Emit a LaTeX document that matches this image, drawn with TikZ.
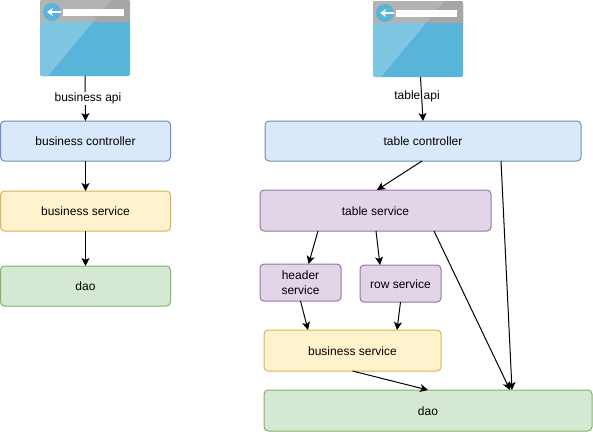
\documentclass[tikz,border=0pt]{standalone}
\usepackage{fontspec}
\setmainfont{Liberation Sans}
\usepackage{tikz}
\usetikzlibrary{arrows.meta}

\definecolor{blueFill}{HTML}{DAE8FC}
\definecolor{blueLine}{HTML}{6C8EBF}
\definecolor{yellowFill}{HTML}{FFF2CC}
\definecolor{yellowLine}{HTML}{D6B656}
\definecolor{purpleFill}{HTML}{E1D5E7}
\definecolor{purpleLine}{HTML}{9673A6}
\definecolor{greenFill}{HTML}{D5E8D4}
\definecolor{greenLine}{HTML}{82B366}
\definecolor{iconBlue}{HTML}{59B4D9}
\definecolor{iconLight}{HTML}{7FC6E3}
\definecolor{iconGray}{HTML}{B3B3B3}
\definecolor{iconDark}{HTML}{A6A6A6}

\tikzset{
  box/.style={draw, rounded corners=4pt, line width=1pt, outer sep=0pt,
    align=center, font=\fontsize{12}{15}\selectfont},
  oneline/.style={text height=9.4pt, text depth=0pt},
  ctrlbox/.style={box, oneline, fill=blueFill, draw=blueLine},
  svcbox/.style={box, oneline, fill=yellowFill, draw=yellowLine},
  subbox/.style={box, fill=purpleFill, draw=purpleLine},
  daobox/.style={box, oneline, fill=greenFill, draw=greenLine},
  apilabel/.style={font=\fontsize{12}{15}\selectfont, inner sep=1pt},
  flow/.style={-{Stealth[length=8pt,width=8pt,inset=2pt]}, line width=1pt}
}

% icon of a browser window, (#2,#3) is its top left corner
\newcommand{\browsericon}[3]{
  \node [fill=iconBlue, rounded corners=2pt, minimum width=90pt, minimum height=76pt,
    inner sep=0pt, outer sep=0pt, anchor=north west] (#1) at (#2, #3) {};
  \begin{scope}[shift={(#2, #3)}]
    \clip [rounded corners=2pt] (0, 0) rectangle (90, 76);
    \fill [iconLight] (0, 22) -- (53, 22) -- (8, 76) -- (0, 76) -- cycle;
    \fill [iconGray] (0, 0) rectangle (90, 22);
    \fill [iconDark] (72, 0) -- (90, 0) -- (90, 22) -- (53, 22) -- cycle;
    \fill [white] (23, 9) rectangle (84, 15.5);
    \fill [iconBlue] (12, 12) circle (9);
    \draw [white, line width=1.5pt, -{Stealth[length=6pt,width=8pt]}] (21, 12) -- (7, 12);
  \end{scope}
}

\begin{document}
\begin{tikzpicture}[x=1pt, y=-1pt]
    \useasboundingbox (0, 0) rectangle (593, 431);

    \browsericon{businessweb}{40}{0}
    \browsericon{tableweb}{373}{1}

    % left stack
    \node [ctrlbox, minimum width=170pt, minimum height=40pt] (businessctrl) at (85.5, 141) {business controller};
    \node [svcbox, minimum width=170pt, minimum height=40pt] (businesssvc) at (85.5, 211) {business service};
    \node [daobox, minimum width=170pt, minimum height=40pt] (businessdao) at (85.5, 286) {dao};

    % right stack
    \node [ctrlbox, minimum width=316pt, minimum height=40pt] (tablectrl) at (423, 141) {table controller};
    \node [subbox, oneline, minimum width=231pt, minimum height=41pt] (tablesvc) at (375.5, 210.5) {table service};
    \node [subbox, minimum width=81pt, minimum height=37pt, inner sep=0pt] (headersvc) at (300.5, 282.5) {header\\service};
    \node [subbox, oneline, minimum width=81pt, minimum height=37pt] (rowsvc) at (400.5, 283.5) {row service};
    \node [svcbox, minimum width=177pt, minimum height=41pt] (mergesvc) at (352.5, 350.5) {business service};
    \node [daobox, minimum width=328pt, minimum height=41pt] (tabledao) at (428, 410.5) {dao};

    \draw [flow] (businessweb.south) -- (businessctrl.north);
    \draw [flow] (businessctrl.south) -- (businesssvc.north);
    \draw [flow] (businesssvc.south) -- (businessdao.north);
    \node [apilabel, fill=white] (businessapi) at (88, 98.5) {business api};

    \draw [flow] ([xshift=2.5pt]tableweb.south) -- (tablectrl.north);
    \node [apilabel] (tableapi) at (417, 96.5) {table api};
    \draw [flow] ([xshift=-1pt]tablectrl.south) -- ([xshift=1.5pt]tablesvc.north);
    \draw [flow] ([xshift=78pt]tablectrl.south) -- ([xshift=84pt]tabledao.north);
    \draw [flow] ([xshift=58.5pt]tablesvc.south) -- ([xshift=82pt]tabledao.north);
    \draw [flow] ([xshift=-57.5pt]tablesvc.south) -- ([xshift=8pt]headersvc.north);
    \draw [flow] ([xshift=0.5pt]tablesvc.south) -- ([xshift=-20.5pt]rowsvc.north);
    \draw [flow] (headersvc.south) -- ([xshift=-44.5pt]mergesvc.north);
    \draw [flow] (rowsvc.south) -- ([xshift=44.5pt]mergesvc.north);
    \draw [flow] (mergesvc.south) -- (tabledao.north);
  \end{tikzpicture}
\end{document}
